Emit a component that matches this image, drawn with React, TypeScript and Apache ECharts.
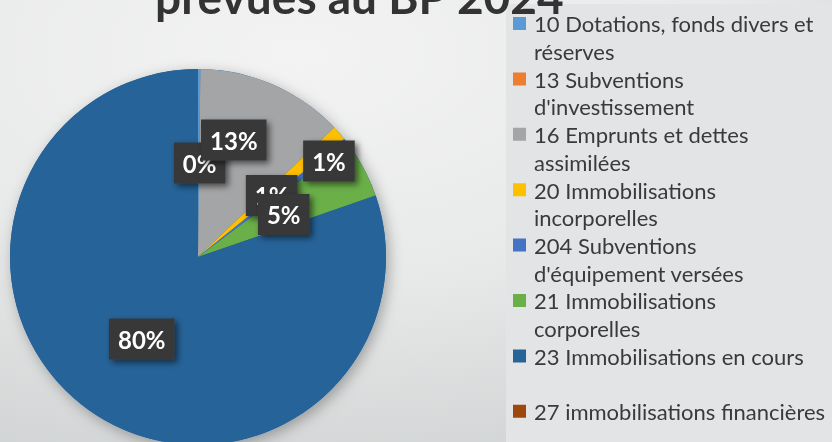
import React, { useEffect, useRef } from "react";
import * as echarts from "echarts";

// ---- data ----
const TITLE = "prévues au BP 2024";
const CATEGORY_LINES: string[][] = [
  ["10 Dotations, fonds divers et", "réserves"],
  ["13 Subventions", "d'investissement"],
  ["16 Emprunts et dettes", "assimilées"],
  ["20 Immobilisations", "incorporelles"],
  ["204 Subventions", "d'équipement versées"],
  ["21 Immobilisations", "corporelles"],
  ["23 Immobilisations en cours", ""],
  ["27 immobilisations financières", ""],
];
const VALUES = [0.2, 0, 12.7, 1.3, 0.6, 4.9, 80.3, 0];
const COLORS = ["#5b9bd5", "#ed7d31", "#a4a5a6", "#ffc000", "#4472c4", "#6aaf48", "#266398", "#9e480e"];
// label nudges (px) relative to library's inside position
const LABEL_SHIFT: number[][] = [[1, 3], [0, 0], [-3, -28], [58, -32], [-3, -2], [0, 3], [0, 3], [0, 0]];

const CATEGORIES = CATEGORY_LINES.map((l) => l.join(" ").trim());

export default function App() {
  const ref = useRef<HTMLDivElement>(null);
  useEffect(() => {
    if (!ref.current) return;
    const chart = echarts.init(ref.current, undefined, { renderer: "svg" });
    const center = [198, 257];
    const radius = 188;
    const legendIcon =
      "path://M0,0L13,0M0,7L13,7L13,20L0,20ZM0,55.4L13,55.4";
    chart.setOption({
      animation: false,
      backgroundColor: {
        type: "radial",
        x: 0.36,
        y: 0.12,
        r: 1.15,
        colorStops: [
          { offset: 0, color: "#f3f3f3" },
          { offset: 0.45, color: "#e8e9e9" },
          { offset: 1, color: "#c8cbcc" },
        ],
      },
      title: {
        text: TITLE,
        left: 150,
        top: -32,
        textStyle: { fontFamily: "Lato", fontSize: 46, fontWeight: "bold", color: "#333333" },
      },
      legend: {
        orient: "vertical",
        left: 506,
        top: 4,
        height: 500,
        padding: [6, 30, 0, 7],
        backgroundColor: "#e3e4e5",
        itemWidth: 13,
        itemHeight: 55.4,
        itemGap: 0,
        icon: legendIcon,
        itemStyle: { borderWidth: 0 },
        data: CATEGORIES,
        formatter: (name: string) => {
          const i = CATEGORIES.indexOf(name);
          return CATEGORY_LINES[i].join("\n");
        },
        textStyle: {
          fontFamily: "Lato",
          fontSize: 22,
          color: "#3a3a3a",
          lineHeight: 27.7,
          padding: [0, 0, 0, 3],
        },
      },
      series: [
        {
          type: "pie",
          silent: true,
          z: 1,
          center,
          radius,
          label: { show: false },
          labelLine: { show: false },
          itemStyle: {
            color: "#266398",
            shadowBlur: 14,
            shadowColor: "rgba(0,0,0,0.3)",
            shadowOffsetX: 3,
            shadowOffsetY: 4,
          },
          data: [{ value: 1, name: "" }],
        },
        {
          type: "pie",
          z: 2,
          center,
          radius,
          startAngle: 90,
          clockwise: true,
          avoidLabelOverlap: false,
          itemStyle: { borderWidth: 0 },
          labelLine: { show: false },
          label: {
            position: "inside",
            formatter: (p: any) => Math.round(p.percent) + "%",
            fontFamily: "Lato",
            fontSize: 24,
            fontWeight: "bold",
            color: "#ffffff",
            backgroundColor: "#383838",
            padding: [8, 9, 8, 9],
            lineHeight: 25,
            shadowBlur: 6,
            shadowColor: "rgba(0,0,0,0.55)",
            shadowOffsetX: 3,
            shadowOffsetY: 3,
          },
          labelLayout: (p: any) => ({ dx: LABEL_SHIFT[p.dataIndex][0], dy: LABEL_SHIFT[p.dataIndex][1] }),
          data: CATEGORIES.map((name, i) => ({
            name,
            value: VALUES[i],
            itemStyle: { color: COLORS[i] },
            label: { show: VALUES[i] > 0 },
          })),
        },
      ],
    });
    return () => chart.dispose();
  }, []);
  return <div ref={ref} style={{ position: "fixed", left: 0, top: 0, width: 832, height: 442 }} />;
}
